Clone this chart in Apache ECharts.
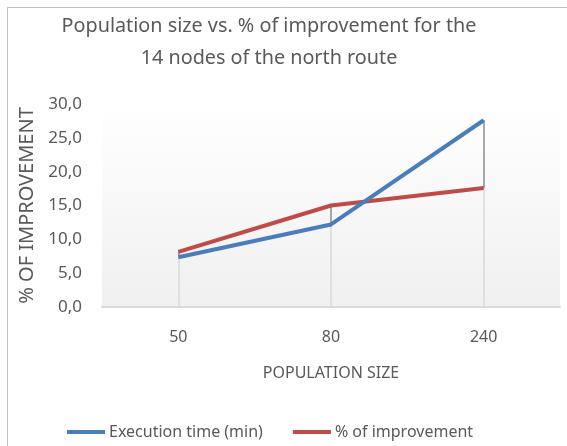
<!DOCTYPE html>
<html><head><meta charset="utf-8">
<script src="https://cdn.jsdelivr.net/npm/echarts@6/dist/echarts.min.js"></script>
<style>html,body{margin:0;padding:0;background:#fff}#c{width:567px;height:446px}</style>
</head><body><div id="c"></div>
<script>
const categories = ['50', '80', '240'];
const execTime = [7.35, 12.2, 27.6];
const improvement = [8.15, 15.0, 17.6];
const yTicks = [0, 5, 10, 15, 20, 25, 30];
const seriesNames = ['Execution time (min)', '% of improvement'];
const titleText = 'Population size vs. % of improvement for the\n14 nodes of the north route';
const yName = '% OF IMPROVEMENT';
const xName = 'POPULATION SIZE';

const FONT = '"Noto Sans", sans-serif';
const dropLines = categories.map((c, i) => [{coord: [c, 0]}, {coord: [c, Math.min(execTime[i], improvement[i])]}]);
const hiLoLines = categories.map((c, i) => [{coord: [c, Math.min(execTime[i], improvement[i])]}, {coord: [c, Math.max(execTime[i], improvement[i])]}]);

const chart = echarts.init(document.getElementById('c'), null, {renderer: 'canvas'});
chart.setOption({
  animation: false,
  backgroundColor: '#fff',
  graphic: [{type: 'rect', shape: {x: 7.5, y: 7.5, width: 600, height: 500}, style: {fill: 'none', stroke: '#bfbfbf', lineWidth: 1}, z: -10}],
  title: {text: titleText, left: 264, top: 5, textAlign: 'center',
    textStyle: {fontFamily: FONT, fontSize: 19.8, fontWeight: 'normal', color: '#595959', lineHeight: 32}},
  legend: {bottom: 1, left: 62, itemWidth: 38, itemHeight: 4, itemGap: 30, icon: 'rect',
    textStyle: {fontFamily: FONT, fontSize: 16, color: '#595959', padding: [0, 0, 0, -1]}, data: seriesNames},
  grid: {left: 102, right: 7, top: 104, bottom: 139, show: true, borderWidth: 0,
    backgroundColor: new echarts.graphic.LinearGradient(0, 0, 0, 1, [{offset: 0, color: '#ffffff'}, {offset: 1, color: '#f0f0f0'}])},
  xAxis: {type: 'category', data: categories, boundaryGap: true,
    name: xName, nameLocation: 'middle', nameGap: 58,
    nameTextStyle: {fontFamily: FONT, fontSize: 16, color: '#595959'},
    axisLine: {lineStyle: {color: '#d9d9d9', width: 2}}, axisTick: {show: false},
    axisLabel: {fontFamily: FONT, fontSize: 16, color: '#595959', margin: 22}},
  yAxis: {type: 'value', min: 0, max: 30, interval: 5,
    name: yName, nameLocation: 'middle', nameGap: 64, nameRotate: 90,
    nameTextStyle: {fontFamily: FONT, fontSize: 20, color: '#595959'},
    axisLine: {show: false}, axisTick: {show: false}, splitLine: {show: false},
    axisLabel: {fontFamily: FONT, fontSize: 17, color: '#595959', margin: 20,
      formatter: v => v.toFixed(1).replace('.', ',')}},
  series: [
    {name: seriesNames[0], type: 'line', data: execTime, symbol: 'none',
      lineStyle: {color: '#4a7ebb', width: 4}, itemStyle: {color: '#4a7ebb'}, z: 3,
      markLine: {silent: true, symbol: 'none', label: {show: false}, lineStyle: {color: '#d9d9d9', width: 1.5, type: 'solid'}, data: dropLines, z: 1}},
    {name: seriesNames[1], type: 'line', data: improvement, symbol: 'none',
      lineStyle: {color: '#be4b48', width: 4}, itemStyle: {color: '#be4b48'}, z: 2,
      markLine: {silent: true, symbol: 'none', label: {show: false}, lineStyle: {color: '#8c8c8c', width: 1.5, type: 'solid'}, data: hiLoLines, z: 1}}
  ]
});
</script></body></html>
